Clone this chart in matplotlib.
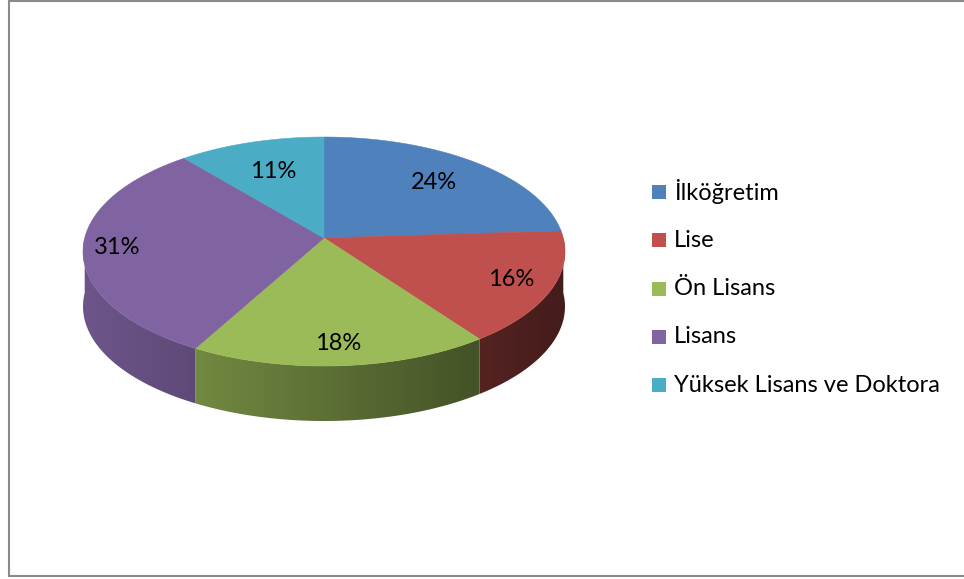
import numpy as np
import matplotlib
matplotlib.use('Agg')
import matplotlib.pyplot as plt
from matplotlib.patches import Polygon, Rectangle

# data
categories = ['İlköğretim', 'Lise', 'Ön Lisans', 'Lisans', 'Yüksek Lisans ve Doktora']
values = [24, 16, 18, 31, 11]
colors = ['#4F81BD', '#C0504D', '#9BBB59', '#8064A2', '#4BACC6']

# layout of the pseudo-3D pie (pixel coords, y downwards)
cx, cy = 324, 238          # projected centre of the top face
A, B, K = 239.3, 112.9, 0.118   # half-width, half-height, perspective factor
depth = 55
label_r = [0.71, 0.83, 0.84, 0.86, 0.67]
FONT = 'Lato'
FS = 17

plt.rcParams['font.family'] = [FONT, 'DejaVu Sans']


def project(r, theta_deg):
    t = np.radians(theta_deg)
    u = r * np.cos(t)
    v = r * np.sin(t)
    w = 1 + K * v
    return cx + A * u / w, cy - B * v / w


fig = plt.figure(figsize=(9.64, 5.79), dpi=100)
ax = fig.add_axes([0, 0, 1, 1])
ax.set_xlim(0, 964)
ax.set_ylim(579, 0)
ax.axis('off')

vals = np.array(values, dtype=float)
fracs = vals / vals.sum()
ends = 90 - 360 * np.cumsum(fracs)
starts = ends + 360 * fracs
mids = (starts + ends) / 2

# side walls (front half only): horizontal gradient clipped to each wall
for i in range(len(values)):
    lo = max(ends[i], -180)
    hi = min(starts[i], 0)
    if hi <= lo:
        continue
    ts = np.linspace(lo, hi, 200)
    xs, ys = project(1, ts)
    pts = list(zip(xs, ys)) + list(zip(xs[::-1], ys[::-1] + depth))
    wall = Polygon(pts, closed=True, facecolor='none', edgecolor='none')
    ax.add_patch(wall)
    x0, x1 = xs.min() - 2, xs.max() + 2
    y0, y1 = ys.min() - 2, ys.max() + depth + 2
    gx = np.linspace(x0, x1, 400)
    shade = 0.6 - 0.25 * np.clip((gx - cx) / A, -1, 1)
    base = np.array(matplotlib.colors.to_rgb(colors[i]))
    img = np.clip(shade[None, :, None] * base[None, None, :], 0, 1)
    img = np.repeat(img, 2, axis=0)
    im = ax.imshow(img, extent=(x0, x1, y1, y0), aspect='auto',
                   interpolation='bilinear', zorder=1)
    im.set_clip_path(wall)

ax.set_xlim(0, 964)
ax.set_ylim(579, 0)

# top faces
for i in range(len(values)):
    ts = np.linspace(starts[i], ends[i], 200)
    xs, ys = project(1, ts)
    pts = [(cx, cy)] + list(zip(xs, ys))
    ax.add_patch(Polygon(pts, closed=True, facecolor=colors[i], edgecolor=colors[i],
                         linewidth=0.4, zorder=2))
    lx, ly = project(label_r[i], mids[i])
    ax.text(lx, ly, f'{values[i]}%', ha='center', va='center', fontsize=FS,
            color='#000000', zorder=3)

# legend
for i, name in enumerate(categories):
    y = 192 + i * 48.3
    ax.add_patch(Rectangle((652, y - 7), 14, 14, facecolor=colors[i], edgecolor='none', zorder=3))
    ax.text(674, y, name, ha='left', va='center', fontsize=FS, color='#000000', zorder=3)

# chart border
ax.plot([970, 9, 9, 970], [1, 1, 576, 576], color='#8a8a8a', linewidth=1.5,
        solid_joinstyle='miter', zorder=4)

fig.savefig('out.png', dpi=100)
